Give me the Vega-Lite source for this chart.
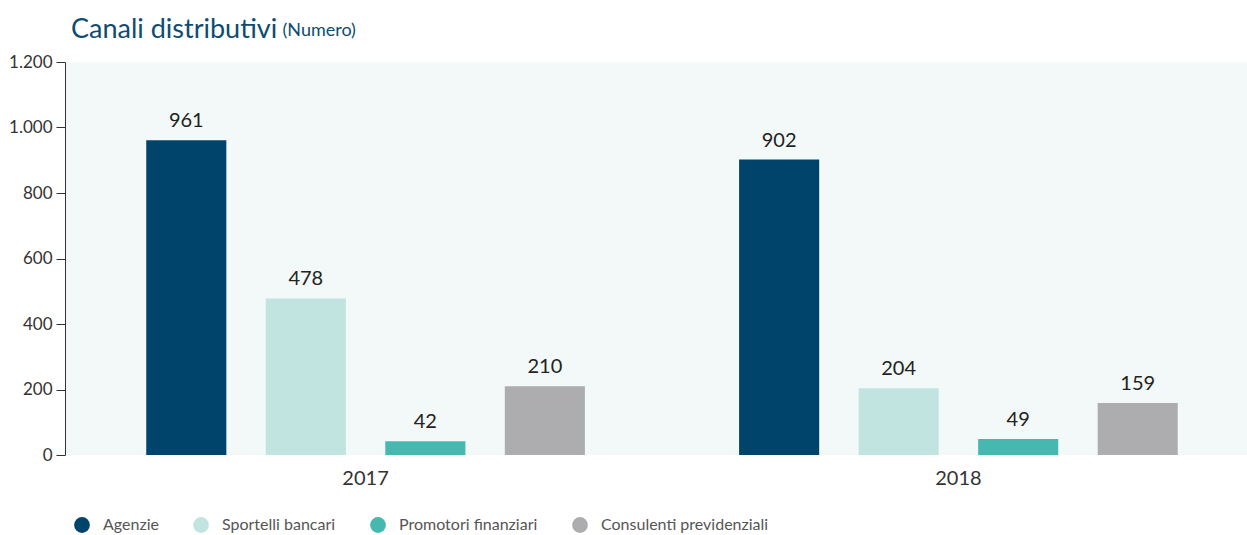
{
  "$schema": "https://vega.github.io/schema/vega-lite/v6.json",
  "width": 1194,
  "height": 393,
  "padding": {"left": 8, "top": 16, "right": 0, "bottom": 0},
  "config": {"view": {"stroke": null, "fill": "#F2F9F8"}, "font": "Lato"},
  "title": {"text": "Canali distributivi", "anchor": "start", "frame": "group", "dx": 6, "offset": -23, "fontSize": 27, "fontWeight": "normal", "color": "#0F4C71", "font": "Lato"},
  "data": {"values": [
    {"anno": "2017", "canale": "Agenzie", "valore": 961},
    {"anno": "2017", "canale": "Sportelli bancari", "valore": 478},
    {"anno": "2017", "canale": "Promotori finanziari", "valore": 42},
    {"anno": "2017", "canale": "Consulenti previdenziali", "valore": 210},
    {"anno": "2018", "canale": "Agenzie", "valore": 902},
    {"anno": "2018", "canale": "Sportelli bancari", "valore": 204},
    {"anno": "2018", "canale": "Promotori finanziari", "valore": 49},
    {"anno": "2018", "canale": "Consulenti previdenziali", "valore": 159}
  ]},
  "encoding": {
    "x": {"field": "anno", "type": "nominal", "scale": {"paddingInner": 0, "paddingOuter": 0.007},
      "axis": {"title": null, "labelAngle": 0, "domain": false, "ticks": false, "labelFontSize": 20, "labelColor": "#333333", "labelPadding": 13}},
    "xOffset": {"field": "canale", "type": "nominal", "sort": ["Agenzie", "Sportelli bancari", "Promotori finanziari", "Consulenti previdenziali"], "scale": {"paddingInner": 0.33, "paddingOuter": 0.645}},
    "y": {"field": "valore", "type": "quantitative", "scale": {"domain": [0, 1200]},
      "axis": {"values": [0, 200, 400, 600, 800, 1000, 1200], "labelExpr": "replace(format(datum.value, ','), ',', '.')", "grid": false, "tickSize": 9, "domainColor": "#333333", "tickColor": "#333333", "labelColor": "#333333", "labelFontSize": 17, "labelPadding": 4,
        "title": "(Numero)", "titleAngle": 0, "titleX": 217, "titleY": -27, "titleAlign": "left", "titleBaseline": "alphabetic", "titleFontSize": 18, "titleFontWeight": "normal", "titleColor": "#0F4C71"}}
  },
  "layer": [
    {"mark": {"type": "bar"},
     "encoding": {"color": {"field": "canale", "type": "nominal", "sort": ["Agenzie", "Sportelli bancari", "Promotori finanziari", "Consulenti previdenziali"],
       "scale": {"domain": ["Agenzie", "Sportelli bancari", "Promotori finanziari", "Consulenti previdenziali"], "range": ["#00446B", "#C1E4E1", "#45B9B0", "#ADADB0"]},
       "legend": {"title": null, "orient": "none", "legendX": 9, "legendY": 455, "direction": "horizontal", "symbolType": "circle", "symbolSize": 250, "symbolStrokeWidth": 0, "labelFontSize": 16, "labelColor": "#555555", "labelOffset": 13, "labelLimit": 400, "columnPadding": 34, "gridAlign": "none"}}}},
    {"mark": {"type": "text", "baseline": "alphabetic", "dy": -13, "fontSize": 20, "color": "#222222"},
     "encoding": {"text": {"field": "valore", "type": "quantitative"}}}
  ]
}
